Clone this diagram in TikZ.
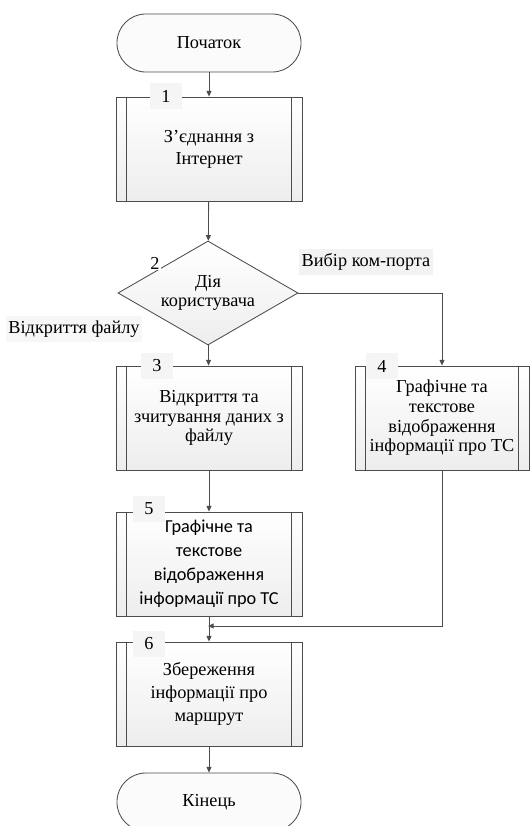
\documentclass[tikz,border=0pt]{standalone}
\usepackage{fontspec}
\setmainfont{Liberation Serif}
\newfontfamily\boxsans{Carlito}
\usepackage{tikz}
\usetikzlibrary{arrows.meta}
\usetikzlibrary{shapes.geometric}
\tikzset{
  % common look of the flow chart
  flow/.style={draw=black!70, line width=0.6pt},
  terminal/.style={flow, rectangle, rounded corners=0.72cm,
    minimum width=4.6cm, minimum height=1.45cm, fill=white!97!gray},
  subproc/.style={flow, rectangle, align=center, inner sep=2pt,
    minimum width=4.65cm, minimum height=2.6cm,
    top color=white, bottom color=black!7},
  decision/.style={flow, diamond, aspect=1.73, inner sep=0pt, align=center,
    minimum width=4.5cm, minimum height=2.6cm,
    top color=white, bottom color=black!7},
  numtag/.style={fill=white!96!black, inner sep=0pt,
    minimum width=0.8cm, minimum height=0.65cm},
  choice/.style={fill=white!95!black, inner sep=2pt,
    minimum height=0.65cm},
  link/.style={flow, -{Triangle[length=4pt,width=3.5pt]}}
}
\newcommand{\txt}{\fontsize{13}{14}\selectfont}

\begin{document}
\begin{tikzpicture}[x=0.025cm, y=-0.025cm, font=\txt]
\useasboundingbox (0,0) rectangle (531,826);
% blocks
\node[terminal] (start) at (209,43) {Початок};
\node[subproc, font=\fontsize{13}{15.5}\selectfont] (b1) at (209,149)
  {З'єднання з\\Інтернет};
\node[decision] (d2) at (208,293) {Дія\\користувача};
\node[subproc] (b3) at (209,418) {Відкриття та\\зчитування даних з\\файлу};
\node[subproc, minimum width=4.35cm] (b4) at (442,418)
  {Графічне та\\текстове\\відображення\\інформації про ТС};
\node[subproc, font=\boxsans\fontsize{13}{17}\selectfont] (b5) at (209,564)
  {Графічне та\\текстове\\відображення\\інформації про ТС};
\node[subproc, font=\fontsize{13}{16.5}\selectfont] (b6) at (209,694)
  {Збереження\\інформації про\\маршрут};
\node[terminal] (stop) at (209,802) {Кінець};
% inner walls of the subprocess boxes
\foreach \b in {b1,b3,b4,b5,b6} {
  \draw[flow] ([xshift=0.28cm]\b.north west) -- ([xshift=0.28cm]\b.south west);
  \draw[flow] ([xshift=-0.28cm]\b.north east) -- ([xshift=-0.28cm]\b.south east);
}
% numbers
\node[numtag] (n1) at (166,96) {1};
\node[fill=white, inner sep=1pt] (n2) at (155,263) {2};
\node[numtag] (n3) at (157,366) {3};
\node[numtag] (n4) at (382,366) {4};
\node[numtag] (n5) at (149,509) {5};
\node[numtag] (n6) at (149,644) {6};
% branch labels
\node[choice] (opt1) at (366,262) {Вибір ком-порта};
\node[choice, fill=white!97!black] (opt2) at (74,329) {Відкриття файлу};
% connectors
\coordinate (join) at (208,626);
\draw[link] (start) -- (b1);
\draw[link] (b1) -- (d2);
\draw[link] (d2) -- (b3);
\draw[link] (d2.east) -| (b4);
\draw[link] (b3) -- (b5);
\draw[link] (b5) -- (b6);
\draw[link] (b4) |- (join);
\draw[link] (b6) -- (stop);
\end{tikzpicture}
\end{document}
